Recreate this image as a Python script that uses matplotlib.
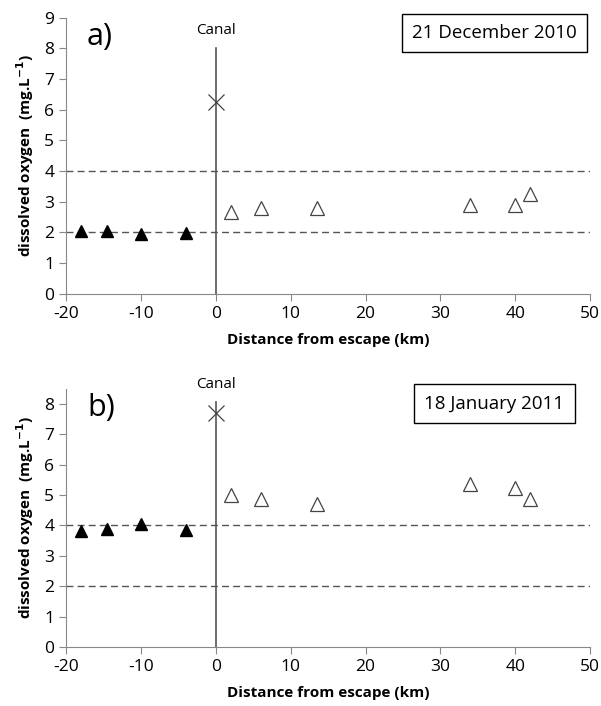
import matplotlib
matplotlib.use('Agg')
import matplotlib.pyplot as plt

plt.rcParams['font.family'] = ['Open Sans', 'DejaVu Sans']
plt.rcParams['axes.unicode_minus'] = False

# sampling positions (km from escape)
x_up = [-18, -14.5, -10, -4]
x_down = [2, 6, 13.5, 34, 40, 42]
x_canal = [0]

# dissolved oxygen, panel a (21 December 2010)
a_up = [2.05, 2.03, 1.95, 1.97]
a_down = [2.65, 2.8, 2.8, 2.88, 2.88, 3.25]
a_canal = [6.25]

# dissolved oxygen, panel b (18 January 2011)
b_up = [3.8, 3.88, 4.05, 3.85]
b_down = [5.0, 4.87, 4.7, 5.35, 5.22, 4.87]
b_canal = [7.7]

panels = [
    ('a)', '21 December 2010', a_up, a_down, a_canal, 9, 8.0, [0.110, 0.584, 0.872, 0.391]),
    ('b)', '18 January 2011', b_up, b_down, b_canal, 8.5, 8.05, [0.110, 0.0836, 0.872, 0.366]),
]

fig = plt.figure(figsize=(6.01, 7.06), dpi=100)
grey = '#888888'

for tag, date, up, down, canal, ymax, canal_top, pos in panels:
    ax = fig.add_axes(pos)
    ax.set_xlim(-20, 50)
    ax.set_ylim(0, ymax)
    ax.axhline(4, color='#555555', lw=1, ls=(0, (5, 3)), zorder=1)
    ax.axhline(2, color='#555555', lw=1, ls=(0, (5, 3)), zorder=1)
    ax.plot([0, 0], [0, canal_top], color='#555555', lw=1.2, zorder=1)
    ax.plot(x_up, up, '^', color='black', ms=9, ls='none', zorder=3)
    ax.plot(x_down, down, '^', mfc='white', mec='#444444', mew=0.9, ms=10, ls='none', zorder=3)
    ax.plot(x_canal, canal, 'x', color='#444444', ms=11, mew=0.9, ls='none', zorder=3)
    for s in ['top', 'right']:
        ax.spines[s].set_visible(False)
    for s in ['left', 'bottom']:
        ax.spines[s].set_color(grey)
    ax.set_xticks(range(-20, 51, 10))
    ax.set_yticks(range(0, int(ymax) + 1))
    ax.tick_params(direction='out', color=grey, labelsize=12.5, length=5)
    ax.set_xlabel('Distance from escape (km)', fontsize=11, fontweight='bold', labelpad=8)
    ax.set_ylabel('dissolved oxygen  (mg.L$^{\\mathbf{-1}}$)', fontsize=11, fontweight='bold', labelpad=6)
    ax.text(-17.2, ymax - 0.15, tag, fontsize=22, va='top', ha='left')
    ax.text(0, canal_top + 0.35, 'Canal', fontsize=11, ha='center', va='bottom')
    ax.text(37.2, ymax - 0.5, date, fontsize=13.5, ha='center', va='center',
            bbox=dict(boxstyle='square,pad=0.55', fc='white', ec='black', lw=1))

fig.savefig('out.png', dpi=100)
